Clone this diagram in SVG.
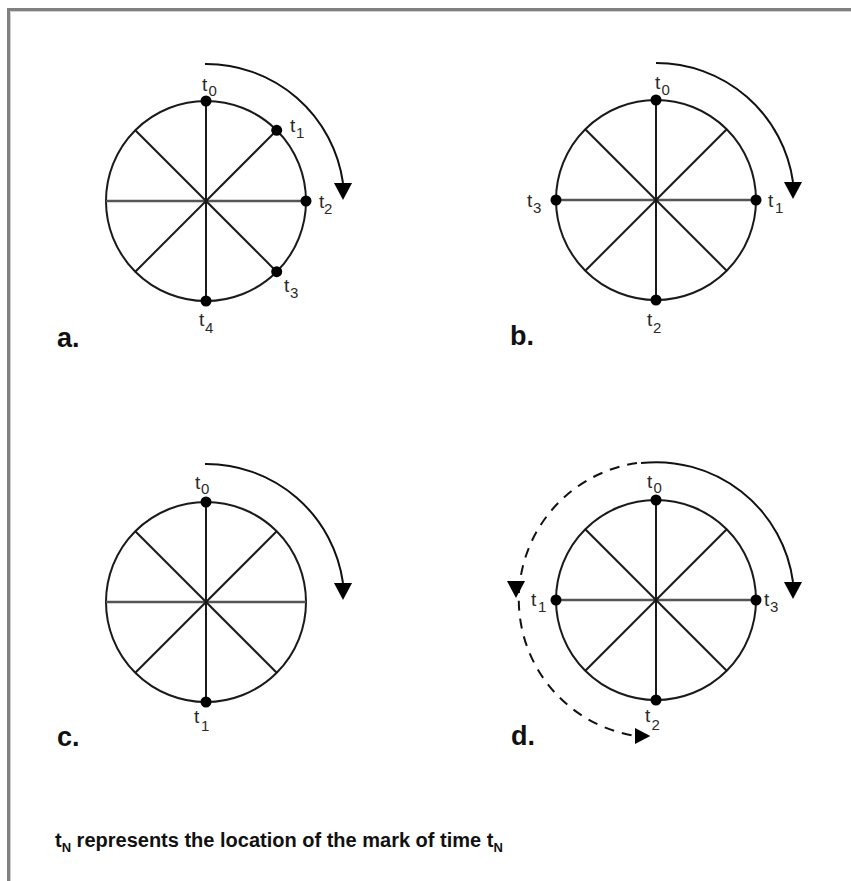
<svg xmlns="http://www.w3.org/2000/svg" xmlns:xlink="http://www.w3.org/1999/xlink" width="851" height="881" viewBox="0 0 851 881">
  <defs>
    <style>
      .rim { fill: none; stroke: #1a1a1a; stroke-width: 2; }
      .spoke { stroke: #1a1a1a; stroke-width: 2; }
      .hspoke { stroke: #555; stroke-width: 2.5; }
      .dot { fill: #000; }
      .arc { fill: none; stroke: #111; stroke-width: 2; }
      .dash { fill: none; stroke: #111; stroke-width: 2; stroke-dasharray: 10 8; }
      .head { fill: #000; }
      .t { font-family: "Liberation Sans", Arial, sans-serif; font-size: 19px; fill: #2a2a2a; }
      .s { font-size: 15px; }
      .lbl { font-family: "Liberation Sans", Arial, sans-serif; font-size: 27px; font-weight: bold; fill: #111; }
      .note { font-family: "Liberation Sans", Arial, sans-serif; font-size: 20px; font-weight: bold; fill: #111; }
      .ns { font-size: 13px; }
    </style>
    <g id="wheel">
      <circle class="rim" cx="0" cy="0" r="100"/>
      <line class="spoke" x1="0" y1="-100" x2="0" y2="100"/>
      <line class="hspoke" x1="-100" y1="0" x2="100" y2="0"/>
      <line class="spoke" x1="-70.7" y1="-70.7" x2="70.7" y2="70.7"/>
      <line class="spoke" x1="-70.7" y1="70.7" x2="70.7" y2="-70.7"/>
    </g>
    <path id="ah" d="M-9,0 L9,0 L0,17 Z"/>
  </defs>

  <rect width="851" height="881" fill="#fff"/>
  <g id="frame">
    <polyline points="8.5,881 8.5,9.5 851,9.5" fill="none" stroke="#808080" stroke-width="3"/>
    <polyline points="10.5,881 10.5,11.5 851,11.5" fill="none" stroke="#d0d0d0" stroke-width="1"/>
  </g>

  <g id="panel-a">
    <use xlink:href="#wheel" href="#wheel" transform="translate(206,201)"/>
    <circle class="dot" cx="206" cy="101" r="5.5"/>
    <circle class="dot" cx="276.7" cy="130.3" r="5.5"/>
    <circle class="dot" cx="306" cy="201" r="5.5"/>
    <circle class="dot" cx="276.7" cy="271.7" r="5.5"/>
    <circle class="dot" cx="206" cy="301" r="5.5"/>
    <text class="t" x="202" y="91">t<tspan class="s" x="208.5" y="96">0</tspan></text>
    <text class="t" x="290" y="132">t<tspan class="s" x="296" y="138">1</tspan></text>
    <text class="t" x="319" y="208">t<tspan class="s" x="324" y="214">2</tspan></text>
    <text class="t" x="284" y="292">t<tspan class="s" x="290" y="298">3</tspan></text>
    <text class="t" x="199" y="326">t<tspan class="s" x="205" y="333">4</tspan></text>
    <text class="lbl" x="57" y="347">a.</text>
  </g>

  <g id="panel-b">
    <use xlink:href="#wheel" href="#wheel" transform="translate(656,200)"/>
    <circle class="dot" cx="656" cy="100" r="5.5"/>
    <circle class="dot" cx="556" cy="200" r="5.5"/>
    <circle class="dot" cx="756" cy="200" r="5.5"/>
    <circle class="dot" cx="656" cy="300" r="5.5"/>
    <text class="t" x="655" y="89">t<tspan class="s" x="661.5" y="95">0</tspan></text>
    <text class="t" x="527" y="207">t<tspan class="s" x="533" y="213">3</tspan></text>
    <text class="t" x="768" y="207">t<tspan class="s" x="775" y="213">1</tspan></text>
    <text class="t" x="647" y="326">t<tspan class="s" x="653" y="333">2</tspan></text>
    <text class="lbl" x="510" y="345">b.</text>
  </g>

  <g id="panel-c">
    <use xlink:href="#wheel" href="#wheel" transform="translate(206,602)"/>
    <circle class="dot" cx="206" cy="502" r="5.5"/>
    <circle class="dot" cx="206" cy="702" r="5.5"/>
    <text class="t" x="195" y="489">t<tspan class="s" x="201" y="494">0</tspan></text>
    <text class="t" x="194" y="723">t<tspan class="s" x="201" y="731">1</tspan></text>
    <text class="lbl" x="57" y="746">c.</text>
  </g>

  <g id="panel-d">
    <use xlink:href="#wheel" href="#wheel" transform="translate(656,600)"/>
    <circle class="dot" cx="656" cy="500" r="5.5"/>
    <circle class="dot" cx="556" cy="600" r="5.5"/>
    <circle class="dot" cx="756" cy="600" r="5.5"/>
    <circle class="dot" cx="656" cy="700" r="5.5"/>
    <text class="t" x="647" y="488">t<tspan class="s" x="653.5" y="493">0</tspan></text>
    <text class="t" x="531" y="606">t<tspan class="s" x="538" y="612">1</tspan></text>
    <text class="t" x="764" y="606">t<tspan class="s" x="770" y="612">3</tspan></text>
    <text class="t" x="645" y="722">t<tspan class="s" x="651.5" y="730">2</tspan></text>
    <text class="lbl" x="511" y="745">d.</text>
  </g>

  <g id="connectors">
    <path class="arc" d="M205,64 A138,138 0 0 1 343,183"/>
    <use xlink:href="#ah" href="#ah" class="head" transform="translate(343,183)"/>
    <path class="arc" d="M656,63 A138,138 0 0 1 793,182"/>
    <use xlink:href="#ah" href="#ah" class="head" transform="translate(793,182)"/>
    <path class="arc" d="M205,464 A138,138 0 0 1 343,583"/>
    <use xlink:href="#ah" href="#ah" class="head" transform="translate(343,583)"/>
    <path class="arc" d="M641,463 A138,138 0 0 1 793,582"/>
    <use xlink:href="#ah" href="#ah" class="head" transform="translate(793,582)"/>
    <path class="dash" d="M637,463 A138,138 0 0 0 636,736"/>
    <use xlink:href="#ah" href="#ah" class="head" transform="translate(516,581)"/>
    <use xlink:href="#ah" href="#ah" class="head" transform="translate(635,736) rotate(-90) scale(0.9)"/>
  </g>

  <text class="note" x="55" y="847">t<tspan class="ns" dy="5">N</tspan><tspan dy="-5"> represents the location of the mark of time t</tspan><tspan class="ns" dy="5">N</tspan></text>
</svg>
